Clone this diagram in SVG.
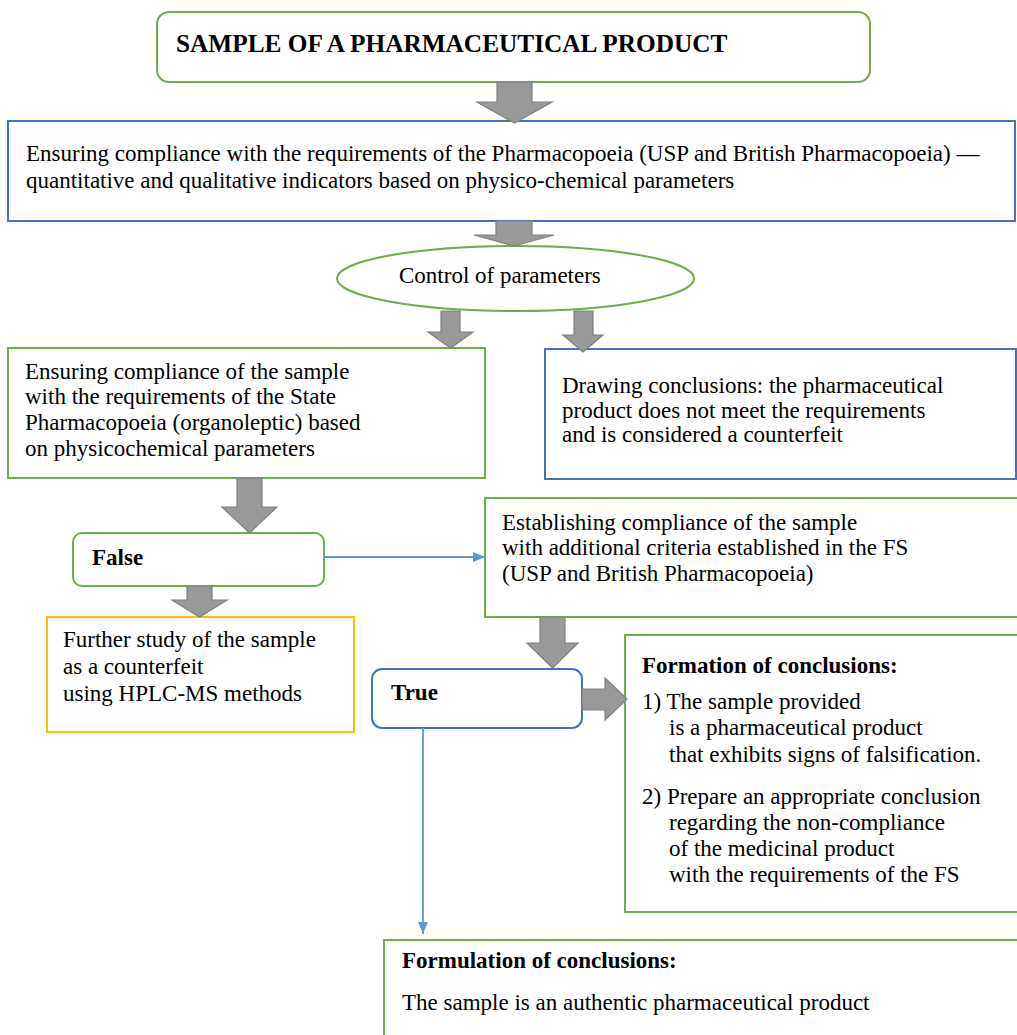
<svg xmlns="http://www.w3.org/2000/svg" width="1017" height="1035" viewBox="0 0 1017 1035">
<style>
  .g { fill: #ffffff; stroke: #70AD47; stroke-width: 2; }
  .b { fill: #ffffff; stroke: #4472C4; stroke-width: 2; }
  .o { fill: #ffffff; stroke: #FFC000; stroke-width: 2; }
  .t { font-family: "Liberation Serif", "Times New Roman", serif; font-size: 23px; fill: #000000; }
  .tb { font-family: "Liberation Serif", "Times New Roman", serif; font-size: 23px; font-weight: bold; fill: #000000; }
  .title { font-family: "Liberation Serif", "Times New Roman", serif; font-size: 25.3px; font-weight: bold; fill: #000000; }
  .ga { fill: #989A9A; stroke: #7F7F7F; stroke-width: 1.2; }
  .conn { fill: none; stroke: #5B9BD5; stroke-width: 1.8; }
</style>
<defs>
  <marker id="ah" markerWidth="12" markerHeight="10" refX="12" refY="5" orient="auto" markerUnits="userSpaceOnUse">
    <path d="M0,0 L12,5 L0,10 Z" fill="#5B9BD5"/>
  </marker>
</defs>
<rect width="1017" height="1035" fill="#ffffff"/>

<g id="n-sample">
  <rect class="g" x="157" y="12" width="713" height="70" rx="12"/>
  <text class="title" x="176" y="52">SAMPLE OF A PHARMACEUTICAL PRODUCT</text>
</g>

<g id="n-pharmacopoeia">
  <rect class="b" x="8" y="121" width="1007" height="100"/>
  <text class="t" x="26" y="161">Ensuring compliance with the requirements of the Pharmacopoeia (USP and British Pharmacopoeia) —</text>
  <text class="t" x="26" y="188">quantitative and qualitative indicators based on physico-chemical parameters</text>
</g>

<g id="n-control">
  <ellipse class="g" cx="515.5" cy="278.5" rx="178.5" ry="32.5"/>
  <text class="t" x="399" y="283">Control of parameters</text>
</g>

<g id="n-state">
  <rect class="g" x="8" y="348" width="477" height="130"/>
  <text class="t" x="25" y="379">Ensuring compliance of the sample</text>
  <text class="t" x="25" y="404">with the requirements of the State</text>
  <text class="t" x="25" y="430">Pharmacopoeia (organoleptic) based</text>
  <text class="t" x="25" y="456">on physicochemical parameters</text>
</g>

<g id="n-drawing">
  <rect class="b" x="545" y="349" width="471" height="130"/>
  <text class="t" x="562" y="393">Drawing conclusions: the pharmaceutical</text>
  <text class="t" x="562" y="418">product does not meet the requirements</text>
  <text class="t" x="562" y="442">and is considered a counterfeit</text>
</g>

<g id="n-false">
  <rect class="g" x="73" y="533" width="251" height="53" rx="9"/>
  <text class="tb" x="92" y="565">False</text>
</g>

<g id="n-establishing">
  <rect class="g" x="485" y="498" width="545" height="119"/>
  <text class="t" x="502" y="530">Establishing compliance of the sample</text>
  <text class="t" x="502" y="555">with additional criteria established in the FS</text>
  <text class="t" x="502" y="581">(USP and British Pharmacopoeia)</text>
</g>

<g id="n-further">
  <rect class="o" x="47" y="617" width="307" height="115"/>
  <text class="t" x="63" y="647">Further study of the sample</text>
  <text class="t" x="63" y="674">as a counterfeit</text>
  <text class="t" x="63" y="701">using HPLC-MS methods</text>
</g>

<g id="n-true">
  <rect class="b" x="372" y="669" width="210" height="59" rx="10"/>
  <text class="tb" x="391" y="700">True</text>
</g>

<g id="n-formation">
  <rect class="g" x="625" y="635" width="400" height="277"/>
  <text class="tb" x="642" y="673">Formation of conclusions:</text>
  <text class="t" x="642" y="709">1) The sample provided</text>
  <text class="t" x="669" y="735">is a pharmaceutical product</text>
  <text class="t" x="669" y="762">that exhibits signs of falsification.</text>
  <text class="t" x="642" y="804">2) Prepare an appropriate conclusion</text>
  <text class="t" x="669" y="830">regarding the non-compliance</text>
  <text class="t" x="669" y="856">of the medicinal product</text>
  <text class="t" x="669" y="882">with the requirements of the FS</text>
</g>

<g id="n-formulation">
  <rect class="g" x="384" y="940" width="650" height="110"/>
  <text class="tb" x="402" y="968">Formulation of conclusions:</text>
  <text class="t" x="402" y="1010">The sample is an authentic pharmaceutical product</text>
</g>

<g id="connectors">
  <path class="ga" d="M497,82 L532,82 L532,102 L552,102 L514.5,123 L477,102 L497,102 Z"/>
  <path class="ga" d="M496,221 L532,221 L532,235 L554,235 L514,246 L474,235 L496,235 Z"/>
  <path class="ga" d="M441,311 L460,311 L460,332 L473,332 L450.5,348 L428,332 L441,332 Z"/>
  <path class="ga" d="M574,311 L593,311 L593,335 L603,335 L583,352 L563,335 L574,335 Z"/>
  <path class="ga" d="M237,478 L262,478 L262,507 L277,507 L249.5,533 L222,507 L237,507 Z"/>
  <path class="ga" d="M187,586 L212,586 L212,600 L227,600 L199.5,617 L172,600 L187,600 Z"/>
  <path class="ga" d="M540,617 L565,617 L565,643 L578,643 L552.5,668 L527,643 L540,643 Z"/>
  <path class="ga" d="M582,689 L605,689 L605,678 L627,699 L605,720 L605,710 L582,710 Z"/>
  <line class="conn" x1="324" y1="557" x2="485" y2="557" marker-end="url(#ah)"/>
  <line class="conn" x1="423" y1="728" x2="423" y2="934" marker-end="url(#ah)"/>
</g>
</svg>
